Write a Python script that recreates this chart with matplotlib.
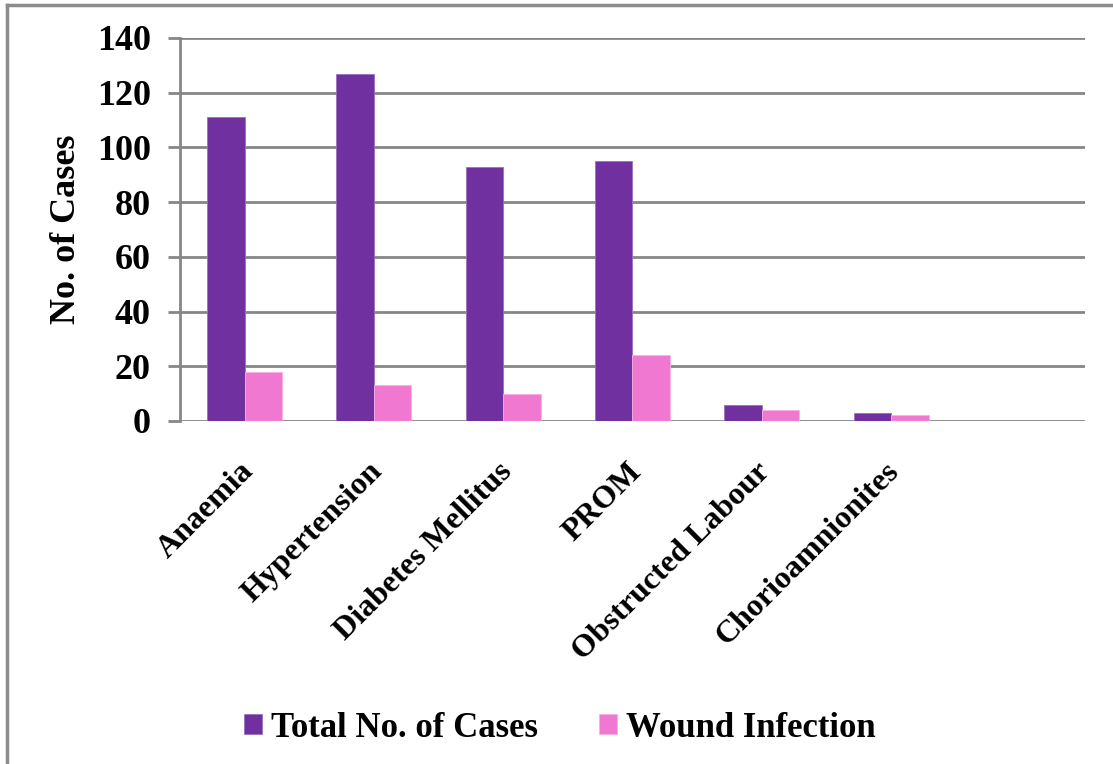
import matplotlib.pyplot as plt, numpy as np
from matplotlib.lines import Line2D
from matplotlib.transforms import ScaledTranslation

categories = ["Anaemia", "Hypertension", "Diabetes Mellitus", "PROM",
              "Obstructed Labour", "Chorioamnionites", ""]
total_cases = [111, 127, 93, 95, 6, 3, 0]
wound_infection = [18, 13, 10, 24, 4, 2, 0]

PURPLE = "#7030A0"
PINK = "#F078D0"
GRID = "#868686"

plt.rcParams['font.family'] = ['Liberation Serif', 'DejaVu Serif']
plt.rcParams['font.weight'] = 'bold'

fig = plt.figure(figsize=(11.13, 7.64), dpi=100)
ax = fig.add_axes([0.1617, 0.449, 0.8131, 0.5013])

x = np.arange(len(categories))
w = 0.29
ax.bar(x - w/2, total_cases, w, color=PURPLE, edgecolor="#9a70c0", linewidth=0.6,
       label="Total No. of Cases", zorder=3)
ax.bar(x + w/2, wound_infection, w, color=PINK, edgecolor="#f8b0e4", linewidth=0.6,
       label="Wound Infection", zorder=3)

ax.set_xlim(-0.5, len(categories) - 0.5)
ax.set_ylim(0, 140)
ax.set_yticks(range(0, 141, 20))
ax.yaxis.grid(True, color=GRID, linewidth=2, zorder=0)
ax.set_axisbelow(True)
for s in ["top", "right", "bottom"]:
    ax.spines[s].set_visible(False)
ax.spines["left"].set_color(GRID)
ax.spines["left"].set_linewidth(2)
ax.tick_params(axis="y", length=9, width=2, color=GRID, labelsize=26, pad=12)
ax.tick_params(axis="x", length=0, pad=26)
ax.set_xticks(x)
ax.set_xticklabels(categories, rotation=45, ha="right", rotation_mode="anchor",
                   fontsize=23, fontweight="bold")
shift = ScaledTranslation(-6/100, 0, fig.dpi_scale_trans)
for lbl in ax.get_xticklabels():
    lbl.set_transform(lbl.get_transform() + shift)
for lbl in ax.get_yticklabels():
    lbl.set_fontweight("bold")
ax.set_ylabel("No. of Cases", fontsize=26, fontweight="bold", labelpad=10)

ax.legend(loc="center", bbox_to_anchor=(0.503, 0.047), bbox_transform=fig.transFigure,
          ncol=2, frameon=False, handlelength=0.52, handleheight=0.52,
          handletextpad=0.25, columnspacing=1.75,
          prop={"weight": "bold", "size": 25})

# outer border (left and top visible)
fig.add_artist(Line2D([0.0067, 0.0067], [0, 0.9935], transform=fig.transFigure,
                      color="#8c8c8c", linewidth=2.5))
fig.add_artist(Line2D([0.0067, 1.0], [0.9935, 0.9935], transform=fig.transFigure,
                      color="#8c8c8c", linewidth=2.5))

fig.savefig("out.png", dpi=100)
